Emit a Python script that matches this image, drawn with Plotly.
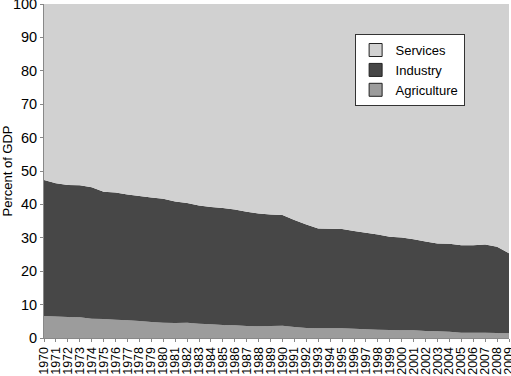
import plotly.graph_objects as go

years = list(range(1970, 2010))
agriculture = [6.6, 6.4, 6.3, 6.2, 5.8, 5.7, 5.5, 5.3, 5.1, 4.8,
               4.6, 4.5, 4.6, 4.3, 4.1, 3.9, 3.8, 3.6, 3.5, 3.6,
               3.7, 3.3, 3.0, 2.9, 2.9, 2.9, 2.8, 2.6, 2.5, 2.4,
               2.3, 2.3, 2.1, 2.0, 1.9, 1.6, 1.6, 1.6, 1.5, 1.4]
ind_plus_agri = [47.3, 46.3, 45.8, 45.7, 45.1, 43.8, 43.6, 43.0, 42.5, 42.1,
                 41.7, 40.9, 40.4, 39.7, 39.2, 38.9, 38.5, 37.8, 37.3, 37.0,
                 36.8, 35.3, 34.0, 32.8, 32.7, 32.6, 32.0, 31.5, 31.0, 30.3,
                 30.1, 29.6, 28.9, 28.3, 28.2, 27.8, 27.8, 28.0, 27.3, 25.4]
industry = [round(t - a, 2) for t, a in zip(ind_plus_agri, agriculture)]
services = [round(100 - t, 2) for t in ind_plus_agri]

series = [("Agriculture", agriculture, "#9c9c9c"),
          ("Industry", industry, "#474747"),
          ("Services", services, "#d1d1d1")]

fig = go.Figure()
for name, vals, col in series:
    fig.add_trace(go.Scatter(x=years, y=vals, name=name, stackgroup="one",
                             mode="none", fillcolor=col, line=dict(width=0),
                             showlegend=False))
# legend swatches (square, outlined like the reference)
for name, vals, col in series:
    fig.add_trace(go.Scatter(x=[None], y=[None], name=name, mode="markers",
                             marker=dict(symbol="square", size=13, color=col,
                                         line=dict(color="#222222", width=1)),
                             showlegend=True))

fig.update_layout(
    width=511, height=376,
    margin=dict(l=44, r=2, t=4, b=38, autoexpand=False),
    paper_bgcolor="white", plot_bgcolor="white",
    font=dict(family="Liberation Sans, Arial, sans-serif", color="black"),
    showlegend=True,
    legend=dict(x=0.668, y=0.91, xanchor="left", yanchor="top",
                traceorder="reversed", bgcolor="white",
                bordercolor="#333333", borderwidth=1,
                font=dict(size=13), itemwidth=30,
                tracegroupgap=0),
    xaxis=dict(range=[1970, 2009], tickmode="array", tickvals=years,
               ticktext=[str(y) for y in years], tickangle=-90,
               tickfont=dict(size=12.5), showgrid=False, zeroline=False,
               showline=True, linecolor="#888888", ticks="outside",
               ticklen=3, tickcolor="#888888", automargin=False,
               ticklabeloverflow="allow"),
    yaxis=dict(range=[0, 100], tickmode="array", tickvals=list(range(0, 101, 10)),
               tickfont=dict(size=14.5),
               showgrid=False, zeroline=False, showline=True,
               linecolor="#888888", ticks="outside", ticklen=3,
               tickcolor="#888888", automargin=False,
               ticklabeloverflow="allow",
               title=dict(text="Percent of GDP", font=dict(size=13), standoff=6)),
)

fig.write_html("out.html", config={"displayModeBar": False},
               post_script="document.body.style.margin='0';document.body.style.overflow='hidden';")
